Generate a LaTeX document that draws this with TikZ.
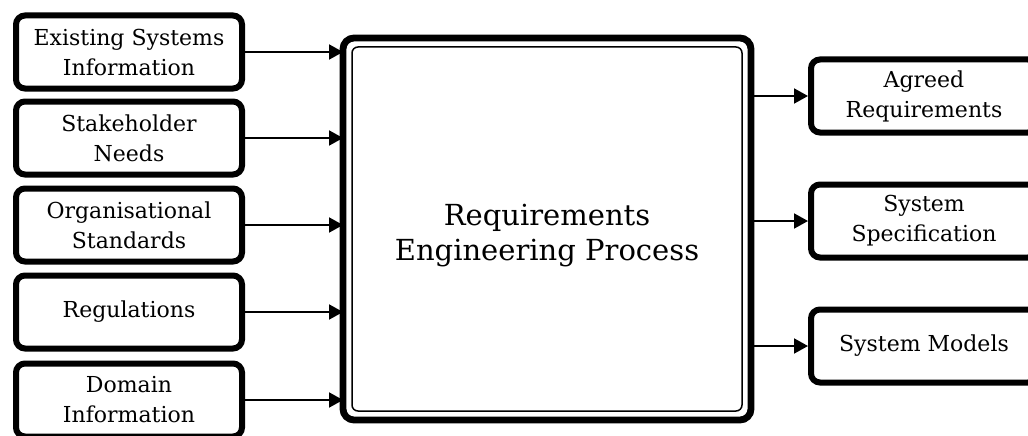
\documentclass[tikz,border=0pt]{standalone}
\usepackage{fontspec}
\setmainfont{DejaVu Serif}
\usetikzlibrary{arrows.meta,calc}
\begin{document}
\begin{tikzpicture}[x=1pt,y=-1pt,
  srcbox/.style={draw, line width=6pt, rounded corners=9pt,
    minimum width=226pt, minimum height=73pt, outer sep=0pt, inner sep=0pt,
    align=center, font=\fontsize{22}{30}\selectfont},
  mainbox/.style={draw, line width=6.8pt, rounded corners=11pt,
    minimum width=408pt, minimum height=382pt, outer sep=0pt},
  maintext/.style={align=center, font=\fontsize{29}{35}\selectfont},
  flow/.style={line width=2pt, -{Triangle[length=14pt,width=15pt]}}]
\useasboundingbox (0,0) rectangle (1028,436);

% central process with its inner frame
\node[mainbox] (proc) at (547,229) {};
\draw[line width=1.5pt, rounded corners=6pt]
  ($(proc.north west)+(9,9)$) rectangle ($(proc.south east)+(-9,-9)$);
\node[maintext] (proctext) at ($(proc.center)+(0,7)$) {Requirements\\Engineering Process};

% inputs
\node[srcbox] (in1) at (129,52)  {Existing Systems\\Information};
\node[srcbox] (in2) at (129,138) {Stakeholder\\Needs};
\node[srcbox] (in3) at (129,225) {Organisational\\Standards};
\node[srcbox] (in4) at (129,312) {Regulations};
\node[srcbox] (in5) at (129,400) {Domain\\Information};

% outputs
\node[srcbox, outer sep=3pt] (out1) at (924,96)  {Agreed\\Requirements};
\node[srcbox, outer sep=3pt] (out2) at (924,221) {System\\Specification};
\node[srcbox, outer sep=3pt] (out3) at (924,346) {System Models};

\foreach \i in {in1,in2,in3,in4,in5}
  \draw[flow] (\i.east) -- (\i.east -| proc.west);
\foreach \o in {out1,out2,out3}
  \draw[flow] (proc.east |- \o.west) -- (\o.west);
\end{tikzpicture}
\end{document}
